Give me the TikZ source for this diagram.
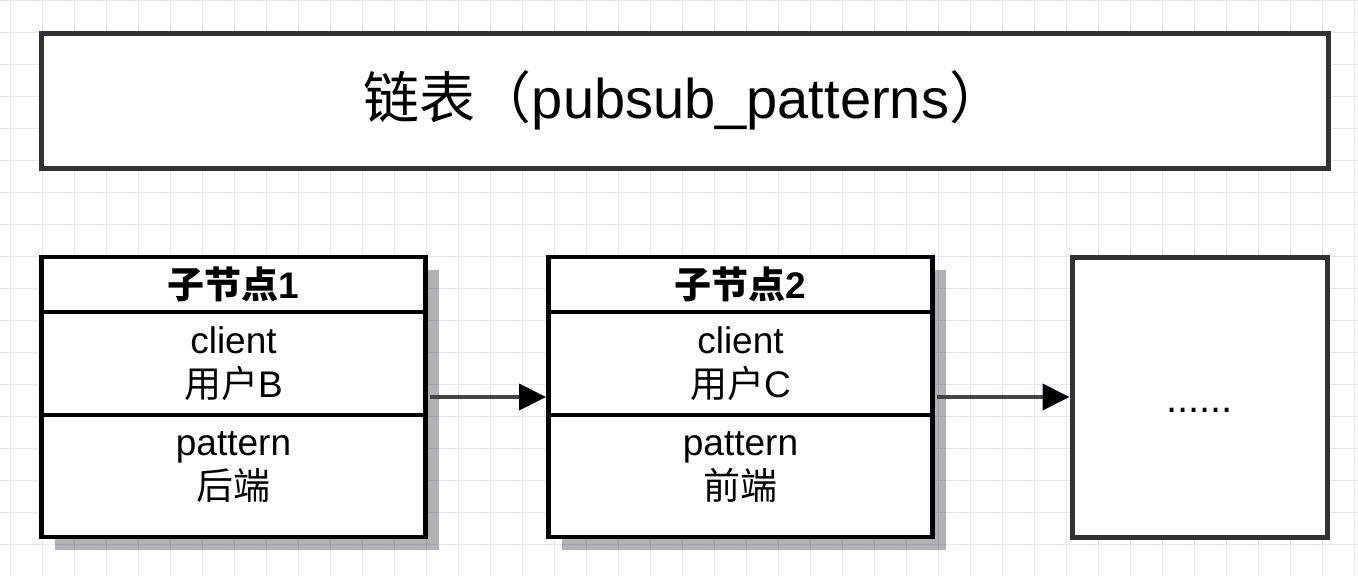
\documentclass[tikz,border=0pt]{standalone}
\usepackage{fontspec}
\setmainfont{Liberation Sans}
\newfontfamily\cjk{Noto Sans CJK SC}
\usepackage{tikz}
\usetikzlibrary{arrows.meta, shadows, fit}
\definecolor{gridline}{HTML}{E6E6F4}
\definecolor{boxgray}{HTML}{333333}
\definecolor{linegray}{HTML}{444444}

\begin{document}
\begin{tikzpicture}[x=1pt, y=-1pt]
    % Styles
    \tikzstyle{titlebox} = [rectangle, draw=boxgray, line width=5pt, fill=white, minimum width=1287pt, minimum height=135pt, text centered, font=\fontsize{56}{64}\selectfont]
    \tikzstyle{cell} = [rectangle, draw=black, line width=4.5pt, fill=white, minimum width=384pt, align=center, inner sep=0pt, drop shadow={shadow xshift=13pt, shadow yshift=-13pt, fill=black, opacity=0.3}]
    \tikzstyle{headrow} = [cell, minimum height=55pt, font=\fontsize{37}{44}\selectfont\bfseries]
    \tikzstyle{clientrow} = [cell, minimum height=103pt, font=\fontsize{37}{44}\selectfont]
    \tikzstyle{patternrow} = [cell, minimum height=122pt, text depth=20pt, font=\fontsize{37}{44}\selectfont]
    \tikzstyle{morebox} = [rectangle, draw=boxgray, line width=5pt, fill=white, minimum width=255pt, minimum height=280pt, text height=30pt, text depth=0pt, font=\fontsize{40}{48}\selectfont]
    \tikzstyle{arrow} = [draw=linegray, line width=4pt, shorten <=2.25pt, -{Triangle[length=27pt, width=26pt, color=black]}]

    % Background grid
    \useasboundingbox (0,0) rectangle (1358,576);
    \fill[white] (0,0) rectangle (1358,576);
    \foreach \gx in {0,...,42}
        \draw[gridline, line width=1pt] ({10.5+32*\gx},0) -- ({10.5+32*\gx},576);
    \foreach \gy in {0,...,17}
        \draw[gridline, line width=1pt] (0,{0.5+32*\gy}) -- (1358,{0.5+32*\gy});

    % Nodes - using absolute positioning
    \node[titlebox] (list) at (684.5,100.5) {{\cjk 链表（}pubsub\_patterns{\cjk ）}};

    \node[headrow] (head1) at (233.5,284.5) {{\cjk 子节点}1};
    \node[clientrow] (client1) at (233.5,363.5) {client\\{\cjk 用户}B};
    \node[patternrow] (pattern1) at (233.5,476) {pattern\\{\cjk 后端}};

    \node[headrow] (head2) at (740.5,284.5) {{\cjk 子节点}2};
    \node[clientrow] (client2) at (740.5,363.5) {client\\{\cjk 用户}C};
    \node[patternrow] (pattern2) at (740.5,476) {pattern\\{\cjk 前端}};

    \node[morebox] (more) at (1199.5,397) {......};

    % Whole child nodes
    \node[fit=(head1)(pattern1), inner sep=0pt] (child1) {};
    \node[fit=(head2)(pattern2), inner sep=0pt] (child2) {};

    % Arrows
    \draw[arrow] (child1) -- (child2);
    \draw[arrow] (child2) -- (more);
\end{tikzpicture}
\end{document}
